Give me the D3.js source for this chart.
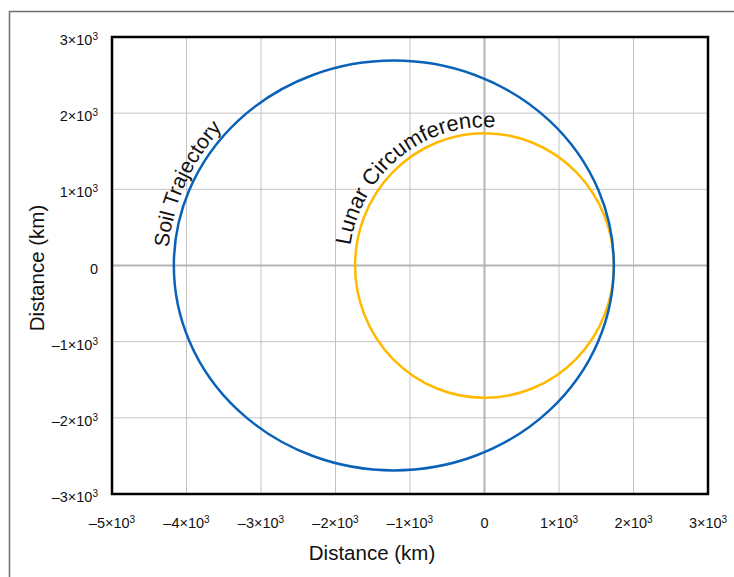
<!DOCTYPE html>
<html>
<head>
<meta charset="utf-8">
<script src="https://cdn.jsdelivr.net/npm/d3@7"></script>
<style>
  body { margin: 0; background: #fff; }
  svg { display: block; font-family: "Liberation Sans", Arial, sans-serif; }
</style>
</head>
<body>
<div id="chart"></div>
<script>
// chart values (km)
var xTicks = [-5000, -4000, -3000, -2000, -1000, 0, 1000, 2000, 3000];
var yTicks = [-3000, -2000, -1000, 0, 1000, 2000, 3000];
var moonRadius = 1737;            // lunar circumference
var orbitCenter = [-1217, 0];     // soil trajectory ellipse centre
var orbitRadii = [2953, 2690];    // semi axes (x, y)
var labels = ["Soil Trajectory", "Lunar Circumference"];

var W = 734, H = 577;
var m = {left: 112, top: 37, right: 26, bottom: 83};
var w = W - m.left - m.right, h = H - m.top - m.bottom;

var svg = d3.select("#chart").append("svg")
    .attr("width", W).attr("height", H);

// outer frame (runs off the right and bottom edge)
svg.append("rect")
    .attr("x", 9.5).attr("y", 11.5)
    .attr("width", W).attr("height", H)
    .attr("fill", "none").attr("stroke", "#6e6e6e").attr("stroke-width", 1.5);

var x = d3.scaleLinear().domain([-5000, 3000]).range([0, w]);
var y = d3.scaleLinear().domain([-3000, 3000]).range([h, 0]);

var g = svg.append("g").attr("transform", "translate(" + m.left + "," + m.top + ")");

// grid
g.selectAll(".gx").data(xTicks.filter(function(d) { return d != 0; })).enter()
    .append("line")
    .attr("x1", function(d) { return x(d); }).attr("x2", function(d) { return x(d); })
    .attr("y1", 0).attr("y2", h)
    .attr("stroke", "#c4c4c4").attr("stroke-width", 1);
g.selectAll(".gy").data(yTicks.filter(function(d) { return d != 0; })).enter()
    .append("line")
    .attr("y1", function(d) { return y(d); }).attr("y2", function(d) { return y(d); })
    .attr("x1", 0).attr("x2", w)
    .attr("stroke", "#c4c4c4").attr("stroke-width", 1);

// zero lines
g.append("line").attr("x1", x(0)).attr("x2", x(0)).attr("y1", 0).attr("y2", h)
    .attr("stroke", "#b4b4b4").attr("stroke-width", 2);
g.append("line").attr("y1", y(0)).attr("y2", y(0)).attr("x1", 0).attr("x2", w)
    .attr("stroke", "#b4b4b4").attr("stroke-width", 2);

// tick labels like "-2×10³"
function tickText(sel) {
    sel.each(function(d) {
        var t = d3.select(this);
        if (d == 0) { t.text("0"); return; }
        var k = d / 1000;
        t.append("tspan").text((k < 0 ? "\u2013" + (-k) : k) + "\u00d710");
        t.append("tspan").text("3").attr("font-size", "10px").attr("dy", "-5");
    });
}

svg.selectAll(".xl").data(xTicks).enter()
    .append("text")
    .attr("x", function(d) { return m.left + x(d); })
    .attr("y", 528)
    .attr("text-anchor", "middle")
    .attr("font-size", "14.5px")
    .attr("fill", "#111")
    .call(tickText);

svg.selectAll(".yl").data(yTicks).enter()
    .append("text")
    .attr("x", 98)
    .attr("y", function(d) { return m.top + y(d) + 8; })
    .attr("text-anchor", "end")
    .attr("font-size", "14.5px")
    .attr("fill", "#111")
    .call(tickText);

// axis titles
svg.append("text").attr("x", 372).attr("y", 560)
    .attr("text-anchor", "middle").attr("font-size", "20.5px").attr("fill", "#111")
    .text("Distance (km)");
svg.append("text")
    .attr("transform", "translate(44,268) rotate(-90)")
    .attr("text-anchor", "middle").attr("font-size", "20.5px").attr("fill", "#111")
    .text("Distance (km)");

// curves
var rxO = x(orbitCenter[0] + orbitRadii[0]) - x(orbitCenter[0]);
var ryO = y(orbitCenter[1]) - y(orbitCenter[1] + orbitRadii[1]);
var rxM = x(moonRadius) - x(0);
var ryM = y(0) - y(moonRadius);

g.append("ellipse")
    .attr("cx", x(0)).attr("cy", y(0)).attr("rx", rxM).attr("ry", ryM)
    .attr("fill", "none").attr("stroke", "#ffba00").attr("stroke-width", 2.5);

g.append("ellipse")
    .attr("cx", x(orbitCenter[0])).attr("cy", y(orbitCenter[1]))
    .attr("rx", rxO).attr("ry", ryO)
    .attr("fill", "none").attr("stroke", "#0a62b8").attr("stroke-width", 2.5);

// label paths (upper-left arcs, clockwise) for text along the curves
function arcPath(cx, cy, rx, ry) {
    return "M" + (cx - rx) + "," + cy + " A" + rx + "," + ry + " 0 0 1 " + (cx + rx) + "," + cy;
}
var defs = svg.append("defs");
defs.append("path").attr("id", "orbitArc")
    .attr("d", arcPath(x(orbitCenter[0]), y(orbitCenter[1]), rxO + 6, ryO + 6));
defs.append("path").attr("id", "moonArc")
    .attr("d", arcPath(x(0), y(0), rxM + 6, ryM + 6));

g.append("text").attr("font-size", "21px").attr("fill", "#111")
    .append("textPath").attr("href", "#orbitArc").attr("startOffset", 18)
    .text(labels[0]);
g.append("text").attr("font-size", "22px").attr("fill", "#111")
    .append("textPath").attr("href", "#moonArc").attr("startOffset", 20)
    .text(labels[1]);

// plot frame
g.append("rect").attr("x", 0).attr("y", 0).attr("width", w).attr("height", h)
    .attr("fill", "none").attr("stroke", "#000").attr("stroke-width", 2.5);
</script>
</body>
</html>
